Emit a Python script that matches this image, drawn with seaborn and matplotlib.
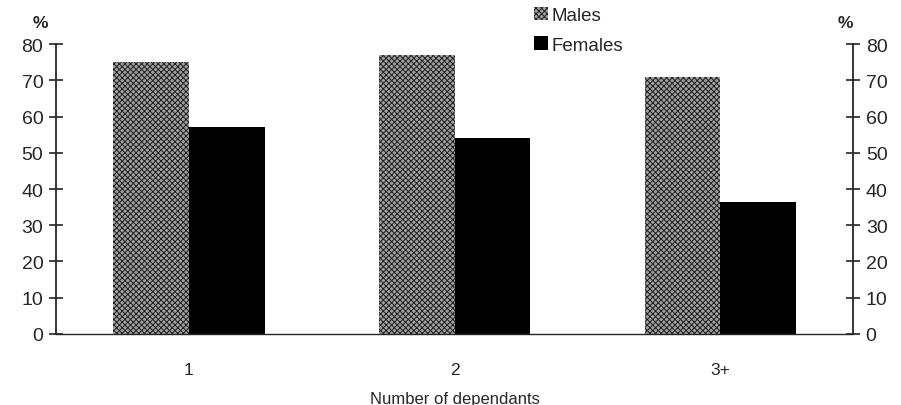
import matplotlib
matplotlib.use('Agg')
import matplotlib.pyplot as plt
import seaborn as sns
import pandas as pd

# values
groups = ['1', '2', '3+']
males = [75, 77, 71]
females = [57, 54, 36.5]
y_ticks = [0, 10, 20, 30, 40, 50, 60, 70, 80]

df = pd.DataFrame({
    'group': groups * 2,
    'sex': ['Males'] * len(groups) + ['Females'] * len(groups),
    'pct': males + females,
})

sns.set_style('white')
plt.rcParams['font.family'] = ['Liberation Sans', 'DejaVu Sans']
plt.rcParams['hatch.linewidth'] = 0.7

fig = plt.figure(figsize=(9.01, 4.06), dpi=100)
ax = fig.add_axes([0.062, 0.175, 0.885, 0.714])

sns.barplot(data=df, x='group', y='pct', hue='sex', order=groups,
            hue_order=['Males', 'Females'],
            palette={'Males': '#a0a0a0', 'Females': 'black'},
            width=0.57, saturation=1, legend=False, ax=ax)

# halftone look for the male bars
for bar in ax.containers[0]:
    bar.set_hatch('xxxxxx')
    bar.set_edgecolor('#1e1e1e')
    bar.set_linewidth(0)
for bar in ax.containers[1]:
    bar.set_linewidth(0)

ax.set_xlim(-0.5, 2.5)
ax.set_ylim(0, 80)
ax.set_yticks(y_ticks)
ax.tick_params(axis='y', direction='inout', length=10, width=1.2,
               labelsize=14, pad=4)
ax.tick_params(axis='x', which='major', length=0, labelsize=12.5, pad=20)
ax.set_xticks([-0.5, 0.5, 1.5, 2.5], minor=True)
ax.tick_params(axis='x', which='minor', direction='out', length=7, width=1)
ax.set_xlabel('Number of dependants', fontsize=12, labelpad=10)
ax.set_ylabel('')

for side in ['top', 'right']:
    ax.spines[side].set_visible(False)
ax.spines['left'].set_linewidth(1.3)
ax.spines['bottom'].set_linewidth(1)

ax2 = ax.twinx()
ax2.set_ylim(0, 80)
ax2.set_yticks(y_ticks)
ax2.tick_params(axis='y', direction='inout', length=10, width=1.2,
                labelsize=14, pad=4)
for side in ['top', 'left', 'bottom']:
    ax2.spines[side].set_visible(False)
ax2.spines['right'].set_linewidth(1.3)

fig.text(0.045, 0.93, '%', fontsize=12.5, fontweight='bold', ha='center')
fig.text(0.938, 0.93, '%', fontsize=12.5, fontweight='bold', ha='center')

ax.legend([ax.containers[0][0], ax.containers[1][0]], ['Males', 'Females'],
          loc='upper left', bbox_to_anchor=(0.59, 1.155), frameon=False,
          fontsize=13.5, handlelength=0.75, handleheight=0.75,
          handletextpad=0.2, labelspacing=0.65, borderaxespad=0)

fig.savefig('out.png', dpi=100)
